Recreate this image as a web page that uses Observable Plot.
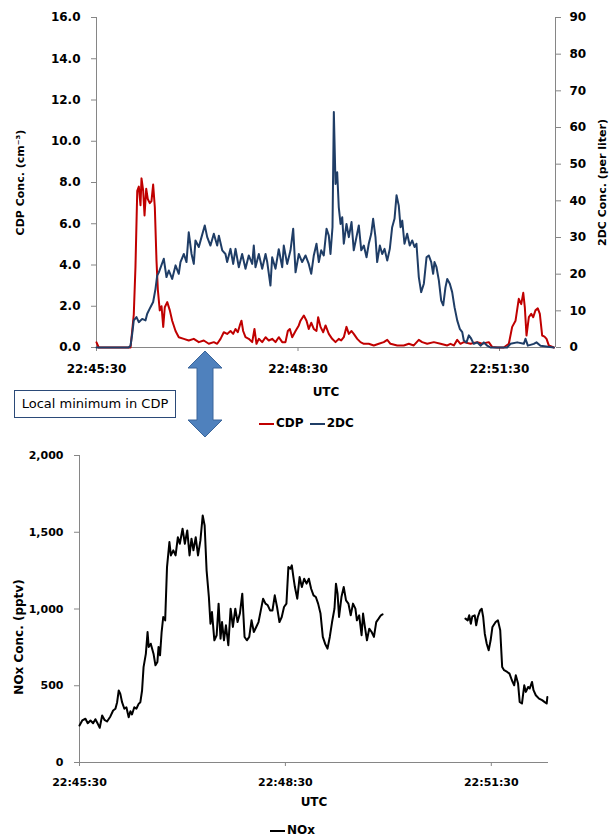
<!DOCTYPE html>
<html><head><meta charset="utf-8">
<script src="https://cdn.jsdelivr.net/npm/d3@7"></script>
<script src="https://cdn.jsdelivr.net/npm/@observablehq/plot@0.6"></script>
<style>
body{margin:0;background:#fff;}
#wrap{position:relative;width:609px;height:838px;font-family:"DejaVu Sans",sans-serif;overflow:hidden;}
.abs{position:absolute;}
.leg{position:absolute;font:bold 12px "DejaVu Sans",sans-serif;color:#000;white-space:nowrap;line-height:14px;}
.sw{display:inline-block;width:15px;height:2px;vertical-align:middle;margin-right:2px;}
</style></head><body><div id="wrap"></div>
<script>
// x positions: seconds after 22:45:30 UTC
const xTickSec = [0, 180, 360];
const xTickLabels = ["22:45:30", "22:48:30", "22:51:30"];
const cdpTicks = [0, 2, 4, 6, 8, 10, 12, 14, 16];
const dcTicks = [0, 10, 20, 30, 40, 50, 60, 70, 80, 90];
const noxTicks = [0, 500, 1000, 1500, 2000];

// CDP concentration (cm^-3)
const cdpSec = [0,2,30.4,33.3,34.8,36.4,37.8,39.3,40.2,41.7,42.9,44.4,45.8,47.6,49.1,50.6,52.1,53.6,54.8,56.5,58.1,59.6,61,63.2,65.5,67.6,70.6,73.5,78,82.4,86.9,91.4,95.8,100.3,104.8,107.8,110.8,113.7,116.7,119.7,122.1,124.2,126.2,128,129.5,131,133.1,136,139.1,141.1,142.9,145,148,151,153.9,156.9,159.9,162.8,165.9,168.8,170.9,172.7,174.8,177.8,180.7,182.2,185.2,187.6,189.6,191.8,194.1,196.5,198,200.1,202.5,204.6,207.5,210.5,213.5,216.4,218.6,220.9,223.3,225.4,227.8,229.8,232.9,235.8,238.8,243.2,247.7,252.2,256.6,259.7,262.6,268.6,274.5,279,283.4,287.9,290.9,295.4,301.3,307.3,313.3,316.2,319.2,322.2,325.1,328.1,334.1,340.1,344.5,350.4,353.5,357.9,363.8,368.3,371.3,374.3,377.2,379.4,381.2,382.6,384.1,386.2,388.3,390.1,392.1,394.2,396,398.1,400.2,402,404,408.5];
const cdpVal = [0.25,0,0,1.6,3.9,7.6,7.8,6.9,8.2,7.6,6.4,7.7,7.2,7.0,7.1,7.9,6.8,4.2,2.8,1.8,2.0,1.0,1.95,2.2,1.8,1.3,0.8,0.5,0.42,0.34,0.42,0.26,0.34,0.18,0.26,0.18,0.42,0.74,0.66,0.8,0.66,0.9,0.74,1.07,1.3,0.8,0.5,0.42,0.26,0.9,0.18,0.42,0.26,0.5,0.34,0.42,0.26,0.5,0.26,0.26,0.8,0.9,0.5,0.8,1.07,1.3,1.55,1.3,0.9,1.2,0.9,0.8,1.47,1.0,0.74,1.07,0.66,0.42,0.26,0.42,0.34,0.5,1.0,0.66,0.8,0.66,0.42,0.26,0.18,0.18,0.1,0.18,0.26,0.37,0.18,0.1,0.1,0.18,0.1,0.37,0.26,0.18,0.26,0.18,0.1,0.18,0.1,0.37,0.18,0.26,0.18,0.26,0.18,0.26,0.02,0,0,0.18,1.0,1.3,2.36,2.1,2.65,1.95,0.58,1.47,1.63,1.47,1.8,1.9,1.63,0.58,0.53,0.42,0.1,0];

// 2DC concentration (per liter)
const dcSec = [0,28.6,30.4,31.9,33.3,35.7,37.8,40.8,43.8,45.3,48.2,50.6,52.7,54.2,55.7,60.1,62.5,64.6,67.6,70.6,73.5,75,78,80.4,82.4,84.9,86.9,88.4,91.4,93.8,96.7,98.9,101.8,104.8,107.8,109.3,112.3,115.2,116.7,119.7,122.1,124.2,127.1,130.1,133.1,136,139.1,140.5,142,145,148,151,152.5,155.4,156.9,159.9,162.8,165.9,167.3,170.3,173.3,175.7,177.8,180.7,183.7,186.7,189.6,191.8,194.1,196.5,198.6,200.7,203,205.5,207.5,209,210.8,212,213.5,215,216.4,218,219.5,220.9,223.3,225.4,227.8,229.8,232.2,234.3,236.5,238.8,241.2,243.2,245.4,247.1,249.2,250.7,253.1,255.2,257.3,259.7,262,264.1,266.2,268,270,271.6,273.1,275.1,277.5,279.8,282,284.1,285.8,287.9,290,292.4,294.8,296.8,299,300.7,301.9,303.7,305.8,307.9,309.7,311.7,313.3,315.6,317.7,319.8,322.2,324.5,326.7,328.1,330.5,332.6,334.7,337,340.1,343,346,349,351.9,366.8,369.8,375.8,381.7,383.2,385.3,390.6,393,396.6,408.5];
const dcVal = [0,0,0.5,3.7,7.4,8.3,6.9,7.8,7.4,9.2,11,12.4,16,19.6,20.5,24.2,19.2,21,18.7,22.4,20.1,23.3,25.5,23.3,31.4,25.5,22.8,29.2,27.4,30.1,33.3,30.1,27.8,31,27.8,30.5,26.5,25.5,23.3,26.9,22.8,26.9,21.9,25.5,21.5,25.1,22.8,27.8,21.9,25.5,21.5,25.5,23.3,16.9,24.6,21.5,26.8,21.9,27.8,22.8,26.5,32.4,20.5,25.5,23.3,25.1,22.8,20.1,25.1,28.3,23.3,26.5,25.1,32.4,30.5,25.5,32.8,64.2,44.6,47.8,38.3,33.7,35.5,28.3,33.7,30.1,34.2,26.5,30.1,33.3,26.5,27.8,24.6,28.3,31,35.1,30.1,23.3,27.8,25.5,26.9,23.7,26.9,32.8,35.1,41.5,38.7,32.8,34.6,28.3,31,27.8,29.2,27.4,28.3,19.2,15.1,17.4,24.6,25.1,23.3,20.1,23.3,21.9,18.3,12.8,11.5,16.4,18.7,17.4,15.1,11,7.4,5.1,4.2,1.9,1.4,3.3,2.4,1,1.4,0.5,1.4,0.5,0,0,1,1.4,1,2.4,0.5,1,1.4,0.5,0];

// NOx concentration (pptv); null = no data
const noxSec = [0,2.4,5.2,7.2,9.6,11.9,13.9,16,17.7,19.8,21.8,24.1,27,29.4,31.4,32.9,34.3,35.7,37.2,39.2,41,43,44.5,45.9,47.9,49.7,51.7,53.2,54.7,56,58,59.5,60.5,62.3,64.7,66.4,68.1,69.1,70.4,71.8,73.2,74.9,76.5,78.6,79.9,82,84,86,87.7,90.1,92.1,94.2,96.2,97.9,99.6,101.6,103.6,105.7,107.7,109.4,111.1,113.1,114.5,115.8,117.9,119.9,121.6,123.3,124.6,126.3,128,130.1,132.1,134.1,136.2,138.2,140.2,142.3,144.3,146.3,148.4,150.4,152.4,154.5,156.5,158.5,160.5,162.6,164.6,166.6,168.7,170.7,172.7,174.8,176.8,178.8,180.9,182.6,184.3,185.6,187,188.3,190.4,192.4,194.4,196.4,198.5,200.5,202.5,204.6,206.6,208.6,210.7,212.7,214.7,216.8,218.8,220.8,222.9,224.2,225.6,226.9,229,231,233,235.1,237.1,239.1,241.2,242.5,244.5,246.6,247.9,249.3,251.3,253.3,255.4,257.4,259.4,261.5,263.5,264.9,300,337.4,339.4,340.7,342.1,343.4,345.5,346.8,348.2,350.2,351.6,352.9,354.3,356,357.7,359.4,361,363.8,365.8,367.8,369.5,371.2,373.9,375.9,378,380,381.4,383.4,384.8,386.8,388.8,390.2,392.2,393.6,395.6,396.9,398.9,401.7,404.4,406.4,408.4,409];
const noxVal = [241,274,285,256,274,256,282,252,226,306,278,267,300,339,350,393,469,447,393,350,360,295,334,313,360,350,382,393,469,621,708,850,753,774,709,633,655,753,698,850,948,926,1273,1436,1349,1382,1349,1468,1425,1523,1425,1512,1349,1458,1382,1468,1349,1447,1609,1544,1252,1078,904,980,796,829,1035,807,915,796,894,764,1002,883,1002,915,970,1100,818,796,818,926,850,883,915,991,1067,1035,1024,991,991,1089,1013,915,948,1013,1035,1273,1262,1284,1208,1143,1067,1208,1143,1197,1165,1197,1132,1089,1078,1035,970,818,774,742,818,915,1002,1165,1100,948,1078,1143,1056,1035,959,1035,1002,926,959,829,970,894,796,872,850,818,915,937,959,965,null,937,926,959,904,952,959,894,948,991,1002,948,839,774,731,796,883,915,926,861,622,601,590,579,536,503,568,514,395,384,503,460,492,482,525,471,438,416,406,395,384,427];

const cdp = cdpSec.map((t, i) => ({t, v: cdpVal[i]}));
const dc = dcSec.map((t, i) => ({t, v: dcVal[i]}));
const nox = noxSec.map((t, i) => ({t, v: noxVal[i]}));

const AX = "#868686";
const fmtX = d => xTickLabels[xTickSec.indexOf(d)];
const wrap = document.getElementById("wrap");

// ---------- top panel ----------
const topPlot = Plot.plot({
  width: 609, height: 440,
  marginLeft: 96, marginRight: 54, marginTop: 17, marginBottom: 93,
  style: {fontFamily: "DejaVu Sans", fontWeight: "bold", fontSize: "12px", color: "#000", background: "transparent", overflow: "visible"},
  x: {domain: [0, 410]},
  y: {domain: [0, 16]},
  marks: [
    Plot.ruleX([0, 410], {stroke: AX}),
    Plot.ruleY([0], {stroke: AX}),
    Plot.axisY({ticks: cdpTicks, tickFormat: d3.format(".1f"), tickSize: 5, tickPadding: 11, stroke: AX, fill: "#000", label: null}),
    Plot.axisY({anchor: "right", ticks: dcTicks.map(v => v * 16 / 90), tickFormat: d => String(Math.round(d * 90 / 16)), tickSize: 5, tickPadding: 9, stroke: AX, fill: "#000", label: null}),
    Plot.axisX({ticks: xTickSec, tickFormat: fmtX, tickSize: 4, tickPadding: 13, stroke: AX, fill: "#000", label: null}),
    Plot.line(cdp, {x: "t", y: "v", stroke: "#C00000", strokeWidth: 2}),
    Plot.line(dc, {x: "t", y: d => d.v * 16 / 90, stroke: "#1F3D66", strokeWidth: 2}),
    Plot.text(["CDP Conc. (cm\u207B\u00B3)"], {frameAnchor: "left", dx: -76, rotate: -90, textAnchor: "middle", lineAnchor: "middle", fontSize: 11, fontWeight: "bold", fill: "#000"}),
    Plot.text(["2DC Conc. (per liter)"], {frameAnchor: "right", dx: 47, rotate: -90, textAnchor: "middle", lineAnchor: "middle", fontSize: 11, fontWeight: "bold", fill: "#000"}),
    Plot.text(["UTC"], {frameAnchor: "bottom", dy: 45, textAnchor: "middle", lineAnchor: "middle", fontSize: 12, fontWeight: "bold", fill: "#000"})
  ]
});
topPlot.style.position = "absolute"; topPlot.style.left = "0px"; topPlot.style.top = "0px";
wrap.appendChild(topPlot);

// ---------- bottom panel ----------
const botPlot = Plot.plot({
  width: 609, height: 398,
  marginLeft: 79, marginRight: 61, marginTop: 15, marginBottom: 76,
  style: {fontFamily: "DejaVu Sans", fontWeight: "bold", fontSize: "11px", color: "#000", background: "transparent", overflow: "visible"},
  x: {domain: [0, 410]},
  y: {domain: [0, 2000]},
  marks: [
    Plot.ruleX([0], {stroke: AX}),
    Plot.ruleY([0], {stroke: AX}),
    Plot.axisY({ticks: noxTicks, tickFormat: d3.format(","), tickSize: 5, tickPadding: 11, stroke: AX, fill: "#000", label: null}),
    Plot.axisX({ticks: xTickSec, tickFormat: fmtX, tickSize: 4, tickPadding: 12, stroke: AX, fill: "#000", label: null}),
    Plot.line(nox, {x: "t", y: "v", stroke: "#000", strokeWidth: 2}),
    Plot.text(["NOx Conc. (pptv)"], {frameAnchor: "left", dx: -60, dy: 28, rotate: -90, textAnchor: "middle", lineAnchor: "middle", fontSize: 12, fontWeight: "bold", fill: "#000"}),
    Plot.text(["UTC"], {frameAnchor: "bottom", dy: 40, textAnchor: "middle", lineAnchor: "middle", fontSize: 12, fontWeight: "bold", fill: "#000"})
  ]
});
botPlot.style.position = "absolute"; botPlot.style.left = "0px"; botPlot.style.top = "440px";
wrap.appendChild(botPlot);

// ---------- legends ----------
const leg1 = document.createElement("div");
leg1.className = "leg";
leg1.style.left = "259px"; leg1.style.top = "416px";
leg1.innerHTML = '<span class="sw" style="background:#C00000"></span>CDP <span class="sw" style="background:#1F3D66;margin-left:2px"></span>2DC';
wrap.appendChild(leg1);

const leg2 = document.createElement("div");
leg2.className = "leg";
leg2.style.left = "270px"; leg2.style.top = "823px";
leg2.innerHTML = '<span class="sw" style="background:#000"></span>NOx';
wrap.appendChild(leg2);

// ---------- annotation ----------
const box = document.createElement("div");
box.className = "abs";
box.style.cssText = "left:14px;top:390px;width:160px;height:26px;border:1.5px solid #2B4A78;background:#fff;font:13px 'DejaVu Sans',sans-serif;color:#000;line-height:26px;padding-left:0;text-align:center;white-space:nowrap;";
box.textContent = "Local minimum in CDP";
wrap.appendChild(box);

const ns = "http://www.w3.org/2000/svg";
const arr = document.createElementNS(ns, "svg");
arr.setAttribute("width", "609"); arr.setAttribute("height", "838");
arr.style.cssText = "position:absolute;left:0;top:0;pointer-events:none;";
const poly = document.createElementNS(ns, "polygon");
poly.setAttribute("points", "205,351 222,368 213,368 213,420 222,420 205,437 188,420 197,420 197,368 188,368");
poly.setAttribute("fill", "#4F81BD"); poly.setAttribute("stroke", "#3A659A"); poly.setAttribute("stroke-width", "1");
arr.appendChild(poly);
wrap.appendChild(arr);
</script></body></html>
